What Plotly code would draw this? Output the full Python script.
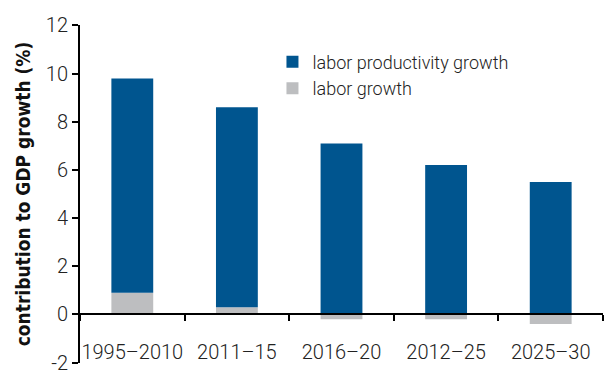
import plotly.graph_objects as go

# Contribution to GDP growth by period (percentage points)
periods = ["1995–2010", "2011–15", "2016–20", "2012–25", "2025–30"]
labor_growth = [0.9, 0.3, -0.2, -0.2, -0.4]
labor_productivity_growth = [8.9, 8.3, 7.1, 6.2, 5.5]
y_ticks = [-2, 0, 2, 4, 6, 8, 10, 12]

BLUE = "#00558F"
GRAY = "#BDBEC0"
TICK_FONT = dict(family="Roboto", size=20, color="#222222", weight=300)

Y_MIN, Y_MAX = -2.02, 12.02

fig = go.Figure()
fig.add_trace(go.Bar(
    x=periods, y=labor_growth, name="labor growth",
    marker=dict(color=GRAY, line=dict(width=0)), width=0.4, legendrank=2,
))
fig.add_trace(go.Bar(
    x=periods, y=labor_productivity_growth, name="labor productivity growth",
    marker=dict(color=BLUE, line=dict(width=0)), width=0.4, legendrank=1,
))

fig.update_layout(
    width=608, height=371,
    margin=dict(l=80, r=5, t=25, b=8),
    barmode="relative",
    plot_bgcolor="white", paper_bgcolor="white",
    showlegend=True,
    legend=dict(
        x=0.368, y=0.945, xanchor="left", yanchor="top",
        font=dict(family="Roboto", size=18, color="#222222", weight=300),
        bgcolor="rgba(0,0,0,0)", itemwidth=30, tracegroupgap=2,
    ),
    xaxis=dict(
        anchor="free", position=-Y_MIN / (Y_MAX - Y_MIN), automargin=False,
        showline=True, linecolor="black", linewidth=2,
        ticks="outside", ticklen=6, tickwidth=1.5, tickcolor="black",
        tickson="boundaries", ticklabelstandoff=20, tickangle=0,
        tickfont=TICK_FONT, showgrid=False, range=[-0.5, 4.5],
    ),
    yaxis=dict(
        range=[Y_MIN, Y_MAX], automargin=False,
        tickvals=y_ticks, ticktext=[str(v) for v in y_ticks],
        ticklabeloverflow="allow",
        showline=True, linecolor="black", linewidth=2,
        ticks="outside", ticklen=6, tickwidth=1.5, tickcolor="black",
        showgrid=False, zeroline=False,
        tickfont=TICK_FONT,
        title=dict(
            text="contribution to GDP growth (%)",
            font=dict(family="DejaVu Sans Condensed", size=19, color="#111111", weight="bold"),
            standoff=10,
        ),
    ),
)

fig.write_html("out.html")
